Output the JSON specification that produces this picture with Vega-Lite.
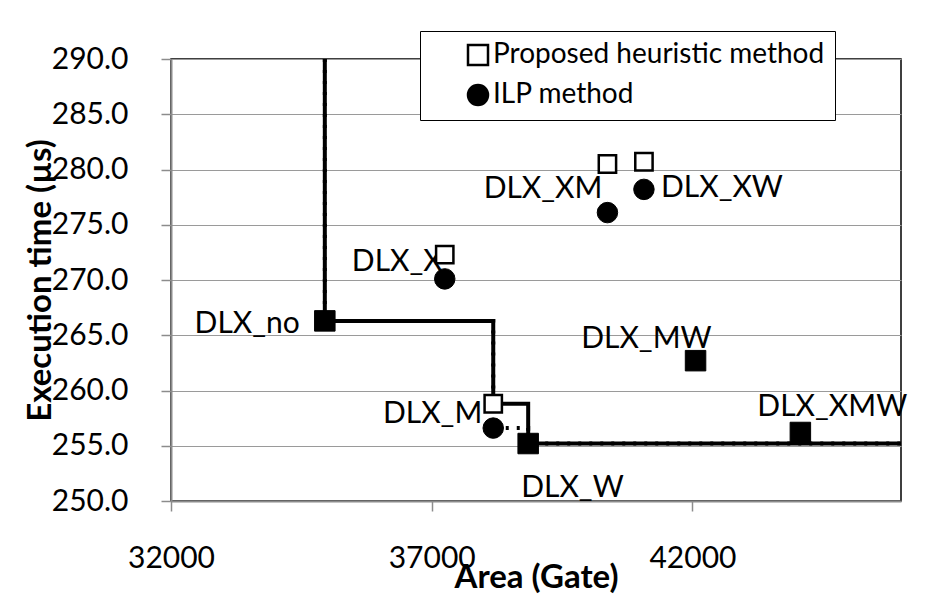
{
  "$schema": "https://vega.github.io/schema/vega-lite/v6.json",
  "width": 730,
  "height": 442,
  "autosize": {"type": "none"},
  "padding": {"left": 171, "top": 59, "right": 50, "bottom": 93},
  "background": "white",
  "config": {
    "font": "Lato",
    "view": {"stroke": "black", "strokeWidth": 1.5},
    "axis": {
      "labelFont": "Lato", "labelFontSize": 30, "labelColor": "black",
      "titleFont": "Lato", "titleFontSize": 33, "titleFontWeight": "bold", "titleColor": "black",
      "domainColor": "#8c8c8c", "domainWidth": 2, "tickColor": "#8c8c8c", "tickWidth": 1.5, "tickSize": 10,
      "gridColor": "#9a9a9a", "gridWidth": 1.2, "labelFlush": false, "labelOverlap": false
    },
    "axisX": {"grid": false, "labelPadding": 32, "titleX": 365, "titleY": 86, "titleBaseline": "alphabetic"},
    "axisY": {"grid": true, "labelPadding": 33, "titleAngle": -90, "titleX": -121, "titleY": 221, "titleBaseline": "alphabetic", "titleAlign": "center"},
    "legend": {
      "orient": "none", "legendX": 249, "legendY": -28,
      "strokeColor": "black", "fillColor": "white", "padding": 10,
      "symbolSize": 400, "symbolStrokeWidth": 2.5, "symbolStrokeColor": "black",
      "labelFont": "Lato", "labelFontSize": 28, "labelColor": "black", "labelLimit": 700,
      "rowPadding": 10, "symbolOffset": 34, "labelOffset": 1
    }
  },
  "datasets": {
    "points": [
      {"config": "DLX_no", "area": 34950, "heuristic": 266.3, "ilp": 266.3},
      {"config": "DLX_X", "area": 37250, "heuristic": 272.3, "ilp": 270.1},
      {"config": "DLX_M", "area": 38180, "heuristic": 258.8, "ilp": 256.6},
      {"config": "DLX_W", "area": 38850, "heuristic": 255.2, "ilp": 255.2},
      {"config": "DLX_XM", "area": 40370, "heuristic": 280.5, "ilp": 276.1},
      {"config": "DLX_XW", "area": 41070, "heuristic": 280.7, "ilp": 278.2},
      {"config": "DLX_MW", "area": 42060, "heuristic": 262.7, "ilp": 262.7},
      {"config": "DLX_XMW", "area": 44070, "heuristic": 256.2, "ilp": 256.2}
    ],
    "fronts": [
      {"front": "heuristic", "seq": 1, "area": 34950, "time": 290},
      {"front": "heuristic", "seq": 2, "area": 34950, "time": 266.3},
      {"front": "heuristic", "seq": 3, "area": 38180, "time": 258.8},
      {"front": "heuristic", "seq": 4, "area": 38850, "time": 255.2},
      {"front": "heuristic", "seq": 5, "area": 46000, "time": 255.2},
      {"front": "ilp", "seq": 1, "area": 34950, "time": 290},
      {"front": "ilp", "seq": 2, "area": 34950, "time": 266.3},
      {"front": "ilp", "seq": 3, "area": 38180, "time": 256.6},
      {"front": "ilp", "seq": 4, "area": 38850, "time": 255.2},
      {"front": "ilp", "seq": 5, "area": 46000, "time": 255.2}
    ]
  },
  "encoding": {
    "x": {
      "field": "area", "type": "quantitative",
      "scale": {"domain": [32000, 46000], "nice": false, "zero": false},
      "axis": {"values": [32000, 37000, 42000], "format": "d"},
      "title": "Area (Gate)"
    }
  },
  "layer": [
    {
      "data": {"name": "points"},
      "transform": [{"filter": "datum.config == 'DLX_no'"}],
      "mark": {"type": "text", "fontSize": 30, "color": "black", "align": "right", "baseline": "alphabetic", "dx": -25, "dy": 12},
      "encoding": {
        "y": {"field": "heuristic", "type": "quantitative", "scale": {"domain": [250, 290], "nice": false, "zero": false}, "title": "Execution time (µs)",
              "axis": {"values": [250, 255, 260, 265, 270, 275, 280, 285, 290], "format": ".1f"}},
        "text": {"field": "config"}
      }
    },
    {
      "data": {"name": "points"},
      "transform": [{"filter": "datum.config == 'DLX_X'"}],
      "mark": {"type": "text", "fontSize": 30, "color": "black", "align": "right", "baseline": "alphabetic", "dx": -2, "dy": 16},
      "encoding": {"y": {"field": "heuristic", "type": "quantitative", "title": "Execution time (µs)"}, "text": {"field": "config"}}
    },
    {
      "data": {"name": "points"},
      "transform": [{"filter": "datum.config == 'DLX_XM'"}],
      "mark": {"type": "text", "fontSize": 30, "color": "black", "align": "right", "baseline": "alphabetic", "dx": -5, "dy": 34},
      "encoding": {"y": {"field": "heuristic", "type": "quantitative", "title": "Execution time (µs)"}, "text": {"field": "config"}}
    },
    {
      "data": {"name": "points"},
      "transform": [{"filter": "datum.config == 'DLX_XW'"}],
      "mark": {"type": "text", "fontSize": 30, "color": "black", "align": "left", "baseline": "alphabetic", "dx": 17, "dy": 8},
      "encoding": {"y": {"field": "ilp", "type": "quantitative", "title": "Execution time (µs)"}, "text": {"field": "config"}}
    },
    {
      "data": {"name": "points"},
      "transform": [{"filter": "datum.config == 'DLX_M'"}],
      "mark": {"type": "text", "fontSize": 30, "color": "black", "align": "right", "baseline": "alphabetic", "dx": -11, "dy": 19},
      "encoding": {"y": {"field": "heuristic", "type": "quantitative", "title": "Execution time (µs)"}, "text": {"field": "config"}}
    },
    {
      "data": {"name": "points"},
      "transform": [{"filter": "datum.config == 'DLX_W'"}],
      "mark": {"type": "text", "fontSize": 30, "color": "black", "align": "left", "baseline": "alphabetic", "dx": -7, "dy": 53},
      "encoding": {"y": {"field": "heuristic", "type": "quantitative", "title": "Execution time (µs)"}, "text": {"field": "config"}}
    },
    {
      "data": {"name": "points"},
      "transform": [{"filter": "datum.config == 'DLX_MW'"}],
      "mark": {"type": "text", "fontSize": 30, "color": "black", "align": "right", "baseline": "alphabetic", "dx": 16, "dy": -13},
      "encoding": {"y": {"field": "heuristic", "type": "quantitative", "title": "Execution time (µs)"}, "text": {"field": "config"}}
    },
    {
      "data": {"name": "points"},
      "transform": [{"filter": "datum.config == 'DLX_XMW'"}],
      "mark": {"type": "text", "fontSize": 30, "color": "black", "align": "left", "baseline": "alphabetic", "dx": -43, "dy": -16},
      "encoding": {"y": {"field": "heuristic", "type": "quantitative", "title": "Execution time (µs)"}, "text": {"field": "config"}}
    },
    {
      "data": {"name": "fronts"},
      "transform": [{"filter": "datum.front == 'ilp'"}],
      "mark": {"type": "line", "interpolate": "step-after", "color": "black", "strokeWidth": 4, "strokeDash": [3, 8]},
      "encoding": {"y": {"field": "time", "type": "quantitative", "title": "Execution time (µs)"}, "order": {"field": "seq"}}
    },
    {
      "data": {"name": "fronts"},
      "transform": [{"filter": "datum.front == 'heuristic'"}],
      "mark": {"type": "line", "interpolate": "step-after", "color": "black", "strokeWidth": 4},
      "encoding": {"y": {"field": "time", "type": "quantitative", "title": "Execution time (µs)"}, "order": {"field": "seq"}}
    },
    {
      "data": {"name": "points"},
      "transform": [{"filter": "datum.heuristic == datum.ilp"}],
      "mark": {"type": "point", "shape": "square", "filled": true, "fill": "black", "stroke": "black", "strokeWidth": 1, "size": 420, "opacity": 1},
      "encoding": {"y": {"field": "heuristic", "type": "quantitative", "title": "Execution time (µs)"}}
    },
    {
      "data": {"name": "points"},
      "transform": [{"filter": "datum.heuristic != datum.ilp"}],
      "mark": {"type": "point", "filled": true, "strokeWidth": 2.5, "size": 300, "opacity": 1, "fillOpacity": 1, "strokeOpacity": 1},
      "encoding": {
        "y": {"field": "heuristic", "type": "quantitative", "title": "Execution time (µs)"},
        "fill": {
          "datum": "Proposed heuristic method",
          "scale": {"domain": ["Proposed heuristic method", "ILP method"], "range": ["white", "black"]},
          "legend": {"title": null}
        },
        "stroke": {
          "datum": "Proposed heuristic method",
          "scale": {"domain": ["Proposed heuristic method", "ILP method"], "range": ["black", "black"]},
          "legend": {"title": null}
        },
        "shape": {
          "datum": "Proposed heuristic method",
          "scale": {"domain": ["Proposed heuristic method", "ILP method"], "range": ["square", "circle"]},
          "legend": {"title": null}
        }
      }
    },
    {
      "data": {"name": "points"},
      "transform": [{"filter": "datum.heuristic != datum.ilp"}],
      "mark": {"type": "point", "filled": true, "strokeWidth": 1, "size": 420, "opacity": 1, "fillOpacity": 1, "strokeOpacity": 1},
      "encoding": {
        "y": {"field": "ilp", "type": "quantitative", "title": "Execution time (µs)"},
        "fill": {"datum": "ILP method"},
        "stroke": {"datum": "ILP method"},
        "shape": {"datum": "ILP method"}
      }
    }
  ]
}
